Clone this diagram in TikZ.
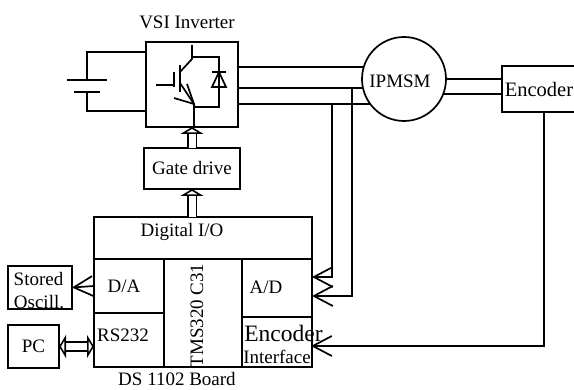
\documentclass[tikz,border=0pt]{standalone}
\usepackage{fontspec}
\setmainfont{Liberation Serif}
\usetikzlibrary{arrows.meta}
\tikzset{
  cell/.style={draw,line width=1.7pt,inner sep=0pt,outer sep=0pt},
  txt/.style={inner sep=0pt,font=\fontsize{19}{19}\selectfont},
  wire/.style={line width=1.7pt},
  barb/.style={wire,-{Straight Barb[length=19pt,width=20pt]}},
  fat/.style={line width=1.6pt,double,double distance=7pt,{Triangle[open,length=7pt,width=23pt,fill=white]}-{Triangle[open,length=7pt,width=23pt,fill=white]}},
  fatone/.style={line width=1.6pt,double,double distance=7pt,-{Triangle[open,length=7pt,width=23pt,fill=white]}}
}
\begin{document}
\begin{tikzpicture}[x=1pt,y=-1pt]
  \useasboundingbox (0,0) rectangle (574,390);
  % power stage
  \node[cell,minimum width=92pt,minimum height=85pt] (inv) at (192,84.5) {};
  \node[cell,circle,minimum size=84pt] (mot) at (404,79) {};
  \node[txt] (motlbl) at (400,81) {IPMSM};
  \node[txt] (invlbl) at (187,22) {VSI Inverter};
  \node[cell,txt,draw,minimum width=96pt,minimum height=41pt] (gate) at (192,168.5) {Gate drive};
  % battery
  \coordinate (dctop) at (87,52);
  \coordinate (dcbot) at (87,111);
  \coordinate (platea) at (87,80);
  \coordinate (plateb) at (87,92);
  \draw[wire] (inv.west |- dctop) -- (dctop) -- (platea);
  \draw[wire] (inv.west |- dcbot) -- (dcbot) -- (plateb);
  \draw[wire] (67,80) -- (107,80);
  \draw[wire] (74,92) -- (100,92);
  % switch and diode
  \draw[wire] (156,85) -- (174,85);
  \draw[wire] (174,72) -- (174,87);
  \draw[wire] (180,65) -- (180,92);
  \draw[wire] (180,72) -- (192,59) -- (192,45);
  \draw[wire] (192,57) -- (219,57) -- (219,107) -- (194,107);
  \draw[wire] (180,83) -- (194,104) -- (194,127);
  \draw[wire] (174,98) -- (194,104) -- (187,84);
  \draw[wire] (212,87) -- (226,87) -- (219,72) -- cycle;
  \draw[wire] (212,72) -- (226,72);
  % motor leads
  \draw[wire] (inv.east |- mot.163) -- (mot.163);
  \draw[wire] (inv.east |- mot.192) -- (mot.192);
  \draw[wire] (inv.east |- mot.216) -- (mot.216);
  % encoder, cut by the page edge
  \coordinate (enctop) at (574,66);
  \coordinate (encbot) at (574,112);
  \coordinate (enca) at (502,66);
  \coordinate (encb) at (502,112);
  \draw[wire] (enctop) -- (enca) -- (encb) -- (encbot);
  \node[txt,font=\fontsize{20.5}{20.5}\selectfont] (enclbl) at (539,89) {Encoder};
  \draw[wire] (mot.east) -- (mot.east -| enca);
  \draw[wire] (mot.-21) -- (mot.-21 -| enca);
  % board
  \node[cell,minimum width=218pt,minimum height=42pt] (dio) at (203,238) {};
  \node[cell,minimum width=70pt,minimum height=54pt] (da) at (129,286) {};
  \node[cell,minimum width=70pt,minimum height=54pt] (rs) at (129,340) {};
  \node[cell,minimum width=78pt,minimum height=108pt] (cpu) at (203,313) {};
  \node[cell,minimum width=70pt,minimum height=58pt] (ad) at (277,288) {};
  \node[cell,minimum width=70pt,minimum height=50pt] (enif) at (277,342) {};
  \node[txt] (diolbl) at (182,232) {Digital I/O};
  \node[txt] (dalbl) at (124,286) {D/A};
  \node[txt] (rslbl) at (123,335) {RS232};
  \node[txt,rotate=90] (cpulbl) at (197,315.5) {TMS320 C31};
  \node[txt] (adlbl) at (266,287) {A/D};
  \node[txt,font=\fontsize{23.5}{23.5}\selectfont] (eniflbl) at (283.5,333) {Encoder};
  \node[txt] (eniflblb) at (277,357) {Interface};
  \node[txt] (boardlbl) at (177,379) {DS 1102 Board};
  % peripherals
  \node[cell,minimum width=64pt,minimum height=43pt] (osc) at (40,287.5) {};
  \node[txt] (osclbla) at (38.5,279) {Stored};
  \node[txt] (osclblb) at (39,302) {Oscill.};
  \node[cell,txt,draw,minimum width=51pt,minimum height=43pt] (pc) at (33.5,346.5) {PC};
  % signals
  \coordinate (sensea) at (332,104);
  \coordinate (senseb) at (352,88);
  \coordinate (adupper) at (312,277);
  \coordinate (adlower) at (312,296);
  \coordinate (encout) at (544,112);
  \coordinate (enin) at (311,346);
  \draw[barb] (sensea) |- (adupper);
  \draw[barb] (senseb) |- (adlower);
  \draw[barb] (encout) |- (enin);
  \draw[barb] (da.west) -- (osc.east);
  \draw[fatone] (gate.north) -- (inv.south);
  \draw[fatone] (dio.north -| gate) -- (gate.south);
  \draw[fat] (pc.east) -- (pc.east -| rs.west);
\end{tikzpicture}
\end{document}
